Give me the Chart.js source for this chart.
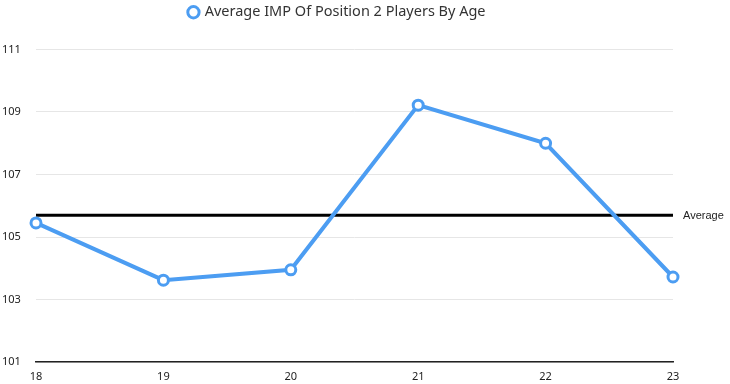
<!DOCTYPE html>
<html>
<head>
<meta charset="utf-8">
<script src="https://cdn.jsdelivr.net/npm/chart.js@4"></script>
<style>
html,body{margin:0;padding:0;background:#fff;}
#wrap{width:730px;height:384px;}
</style>
</head>
<body>
<div id="wrap"><canvas id="c" width="730" height="384"></canvas></div>
<script>
const ages = ['18', '19', '20', '21', '22', '23'];
const impValues = [105.45, 103.62, 103.95, 109.22, 108.0, 103.72];
const averageValues = [105.7, 105.7, 105.7, 105.7, 105.7, 105.7];
const yTicks = [101, 103, 105, 107, 109, 111];
const seriesLabel = 'Average IMP Of Position 2 Players By Age';
const averageLabel = 'Average';

const blue = '#4c9df2';

const avgLabelPlugin = {
  id: 'avgLabel',
  beforeInit(chart) {
    const lg = chart.legend;
    if (lg) {
      const origFit = lg.fit;
      lg.fit = function () {
        origFit.call(this);
        this.height += 20;
      };
    }
  },
  afterDatasetsDraw(chart) {
    const meta = chart.getDatasetMeta(1);
    const last = meta.data[meta.data.length - 1];
    const ctx = chart.ctx;
    ctx.save();
    ctx.fillStyle = '#222';
    ctx.font = '11px "Liberation Sans", Arial, sans-serif';
    ctx.textAlign = 'left';
    ctx.textBaseline = 'middle';
    ctx.fillText(averageLabel, last.x + 10, last.y + 1);
    ctx.restore();
  }
};

new Chart(document.getElementById('c'), {
  type: 'line',
  data: {
    labels: ages,
    datasets: [
      {
        label: seriesLabel,
        data: impValues,
        borderColor: blue,
        backgroundColor: '#ffffff',
        borderWidth: 4,
        pointRadius: 5,
        pointBorderWidth: 3,
        pointBorderColor: blue,
        pointBackgroundColor: '#ffffff',
        pointStyle: 'circle',
        tension: 0,
        order: 1
      },
      {
        label: averageLabel,
        data: averageValues,
        borderColor: '#000000',
        borderWidth: 3,
        pointRadius: 0,
        tension: 0,
        order: 2
      }
    ]
  },
  options: {
    responsive: false,
    animation: false,
    devicePixelRatio: 1,
    layout: { padding: { left: 2, right: 57, top: 1, bottom: 0 } },
    plugins: {
      tooltip: { enabled: false },
      legend: {
        position: 'top',
        labels: {
          filter: (item) => item.datasetIndex === 0,
          usePointStyle: true,
          pointStyle: 'circle',
          boxWidth: 8,
          boxHeight: 8,
          padding: 4,
          color: '#333',
          font: { family: '"Noto Sans", "Open Sans", sans-serif', size: 14.5 }
        }
      }
    },
    scales: {
      x: {
        offset: false,
        afterFit(scale) { scale.height = 22; },
        grid: { display: false, drawTicks: false },
        border: { display: true, color: '#222', width: 1.5 },
        ticks: {
          color: '#222',
          padding: 8,
          maxRotation: 0,
          font: { family: '"Noto Sans", "Open Sans", sans-serif', size: 11 }
        }
      },
      y: {
        min: 101,
        max: 111,
        afterBuildTicks(scale) { scale.ticks = yTicks.map(v => ({ value: v })); },
        afterFit(scale) { scale.width = 34; },
        grid: { color: '#e6e6e6', lineWidth: 1, drawTicks: false },
        border: { display: false },
        ticks: {
          color: '#222',
          crossAlign: 'far',
          padding: 0,
          font: { family: '"Noto Sans", "Open Sans", sans-serif', size: 11 }
        }
      }
    }
  },
  plugins: [avgLabelPlugin]
});
</script>
</body>
</html>
